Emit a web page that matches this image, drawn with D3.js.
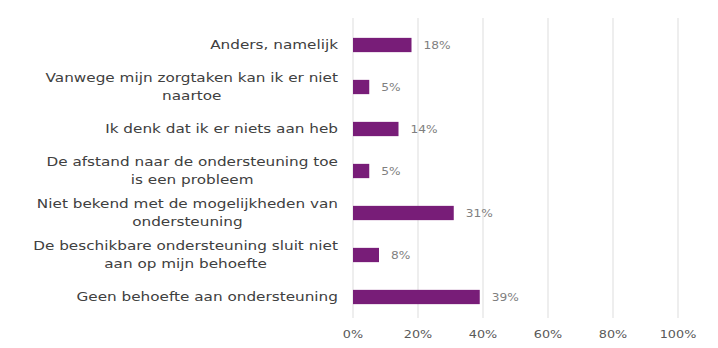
<!DOCTYPE html>
<html>
<head>
<meta charset="utf-8">
<script src="https://cdn.jsdelivr.net/npm/d3@7"></script>
<style>
  html, body { margin: 0; padding: 0; background: #fff; }
  svg { display: block; font-family: "DejaVu Sans", Verdana, sans-serif; }
</style>
</head>
<body>
<svg id="chart" width="718" height="348"></svg>
<script>
// Reasons given for not using support (share of respondents)
const categories = [
  "Anders, namelijk",
  "Vanwege mijn zorgtaken kan ik er niet naartoe",
  "Ik denk dat ik er niets aan heb",
  "De afstand naar de ondersteuning toe is een probleem",
  "Niet bekend met de mogelijkheden van ondersteuning",
  "De beschikbare ondersteuning sluit niet aan op mijn behoefte",
  "Geen behoefte aan ondersteuning"
];
const values = [18, 5, 14, 5, 31, 8, 39];
const tickValues = [0, 20, 40, 60, 80, 100];

const svg = d3.select("#chart");
const sx = 1.22; // wide lettering
const x0 = 353, x1 = 678;
const x = d3.scaleLinear().domain([0, 100]).range([x0, x1]);
const y = d3.scaleBand().domain(categories).range([24, 318])
  .paddingInner(0.66).paddingOuter(0.33);

// vertical gridlines
svg.append("g").selectAll("line").data(tickValues).join("line")
  .attr("x1", d => x(d)).attr("x2", d => x(d))
  .attr("y1", 18).attr("y2", 318)
  .attr("stroke", "#e3e3e3").attr("stroke-width", 1.2);

// x axis tick labels
const xAxis = d3.axisBottom(x).tickValues(tickValues)
  .tickFormat(d => d + "%").tickSize(0).tickPadding(0);
const gx = svg.append("g").attr("transform", "translate(0,331)").call(xAxis);
gx.select(".domain").remove();
gx.selectAll(".tick").each(function(d) {
  d3.select(this).attr("transform", `translate(${x(d)},0) scale(${sx},1)`);
});
gx.selectAll("text").attr("fill", "#595959").attr("font-size", 10.5)
  .attr("font-family", "DejaVu Sans, Verdana, sans-serif");

// bars
svg.append("g").selectAll("rect").data(values).join("rect")
  .attr("x", x(0))
  .attr("y", (d, i) => y(categories[i]))
  .attr("width", d => x(d) - x(0))
  .attr("height", y.bandwidth())
  .attr("fill", "#781d78");

// value labels
svg.append("g").selectAll("text").data(values).join("text")
  .attr("transform", (d, i) =>
    `translate(${x(d) + 12},${y(categories[i]) + y.bandwidth() / 2}) scale(${sx},1)`)
  .attr("dy", "0.35em")
  .attr("font-size", 10)
  .attr("fill", "#7f7f7f")
  .text(d => d + "%");

// category labels, wrapped to a maximum width, centred lines, right edge at the axis
const maxW = 252, lineH = 18, rightEdge = 338;
const labels = svg.append("g").attr("font-size", 12.5).attr("fill", "#404040")
  .attr("text-anchor", "middle");
categories.forEach((c, i) => {
  const cy = y(c) + y.bandwidth() / 2;
  const g = labels.append("g");
  const t = g.append("text");
  const probe = g.append("text");
  const lines = [];
  let cur = [];
  c.split(" ").forEach(w => {
    probe.text(cur.concat([w]).join(" "));
    if (probe.node().getComputedTextLength() > maxW && cur.length) {
      lines.push(cur.join(" "));
      cur = [w];
    } else cur.push(w);
  });
  lines.push(cur.join(" "));
  probe.remove();
  const n = lines.length;
  lines.forEach((l, k) => {
    t.append("tspan").text(l)
      .attr("y", (k - (n - 1) / 2) * lineH)
      .attr("dy", "0.35em");
  });
  const widths = [];
  t.selectAll("tspan").each(function() { widths.push(this.getComputedTextLength()); });
  const wMax = d3.max(widths);
  t.selectAll("tspan").attr("x", -wMax / 2);
  g.attr("transform", `translate(${rightEdge},${cy}) scale(${sx},1)`);
});
</script>
</body>
</html>
